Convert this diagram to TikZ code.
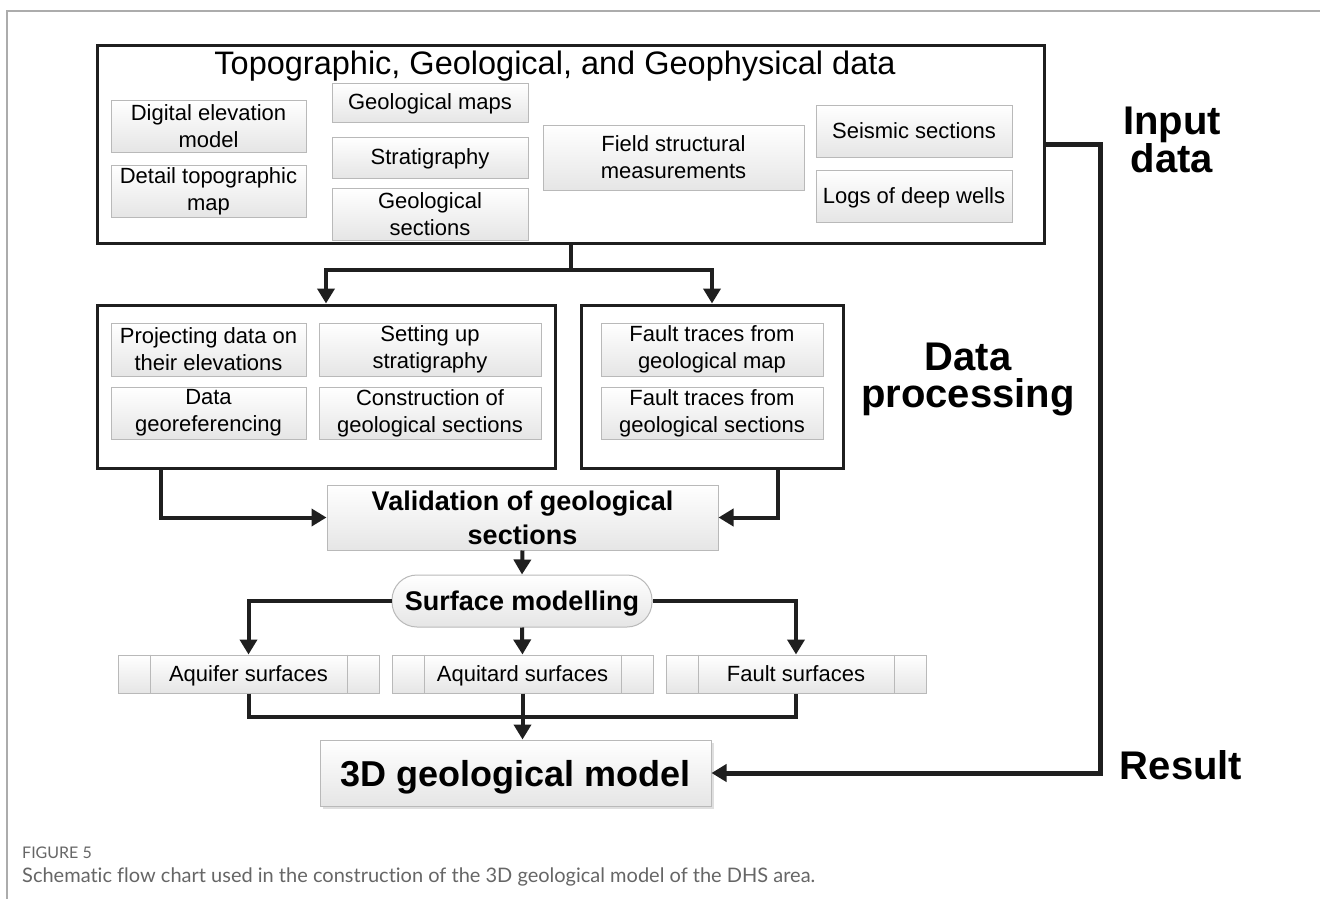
\documentclass[tikz,border=0pt]{standalone}
\usepackage{fontspec}
\setmainfont{Liberation Sans}
\newfontfamily\capfont[Ligatures=NoCommon]{Lato}
\usetikzlibrary{arrows.meta,shadows}
\definecolor{capgray}{HTML}{666666}
\newcommand\fsub{\fontsize{22}{27}\selectfont}
\newcommand\fbig{\fontsize{40}{37}\selectfont\bfseries}
\tikzset{
  sub/.style={draw=gray!55, line width=1pt, top color=white, bottom color=gray!20,
    inner sep=0pt, align=center, font=\fsub, text=black},
  one/.style={sub, text height=18pt, text depth=4pt},
  big/.style={draw=black!88, line width=3pt, inner sep=0pt, fill=none},
  conn/.style={line width=4pt, draw=black!88},
  arr/.style={conn, -{Triangle[width=17pt,length=15pt]}},
  lbl/.style={align=center, font=\fbig, inner sep=0pt},
}
\begin{document}
\begin{tikzpicture}[x=1pt,y=-1pt]
\useasboundingbox (0,0) rectangle (1320,899);
\fill[white] (0,0) rectangle (1320,899);
\draw[gray!65, line width=1.3pt] (7,899) -- (7,11) -- (1320,11);

% input block
\node[big, minimum width=947pt, minimum height=197pt] (T) at (570.5,144.5) {};
\node[inner sep=0pt, font=\fontsize{32.5}{36}\selectfont] (title) at (555,66) {Topographic, Geological, and Geophysical data};
\node[sub, minimum width=195pt, minimum height=52pt] (dem) at (208.5,126) {Digital elevation\\model};
\node[sub, minimum width=195pt, minimum height=52pt] (dtm) at (208.5,191) {Detail topographic\\map};
\node[one, minimum width=196pt, minimum height=38pt] (gmap) at (430,103) {Geological maps};
\node[one, minimum width=196pt, minimum height=41pt] (strat) at (430,157.5) {Stratigraphy};
\node[sub, minimum width=196pt, minimum height=52pt] (gsec) at (430,214) {Geological\\sections};
\node[sub, minimum width=261pt, minimum height=65pt] (field) at (673.5,157.5) {Field structural\\measurements};
\node[one, minimum width=196pt, minimum height=52pt] (seis) at (914,131) {Seismic sections};
\node[one, minimum width=196pt, minimum height=52pt] (logs) at (914,196) {Logs of deep wells};

% processing
\node[big, minimum width=458pt, minimum height=163pt] (L) at (326,386.5) {};
\node[sub, minimum width=195pt, minimum height=53pt] (proj) at (208.5,349.5) {Projecting data on\\their elevations};
\node[sub, minimum width=222pt, minimum height=53pt] (setup) at (430,349.5) {Setting up\\stratigraphy};
\node[sub, minimum width=195pt, minimum height=52pt] (georef) at (208.5,413) {Data\\georeferencing};
\node[sub, minimum width=222pt, minimum height=52pt] (constr) at (430,413) {Construction of\\geological sections};
\node[big, minimum width=262pt, minimum height=163pt] (R) at (712,386.5) {};
\node[sub, minimum width=222pt, minimum height=53pt] (ftmap) at (712,349.5) {Fault traces from\\geological map};
\node[sub, minimum width=222pt, minimum height=52pt] (ftsec) at (712,413) {Fault traces from\\geological sections};

% side labels
\node[lbl] (inp) at (1172,140) {Input\\data};
\node[lbl] (dp) at (968,379) {Data\\processing};
\node[lbl] (res) at (1181,765) {Result};

% validation and modelling
\node[sub, minimum width=391pt, minimum height=65pt,
  font=\fontsize{27}{34}\selectfont\bfseries] (valid) at (522.5,517.5) {Validation of geological\\sections};
\node[one, minimum width=260pt, minimum height=52pt, rounded corners=25pt, text height=24pt, text depth=5pt,
  font=\fontsize{27}{32}\selectfont\bfseries] (surf) at (522,601) {Surface modelling};
\node[one, minimum width=261pt, minimum height=38pt] (aqf) at (248.5,674) {Aquifer surfaces};
\node[one, minimum width=261pt, minimum height=38pt] (aqt) at (522.5,674) {Aquitard surfaces};
\node[one, minimum width=260pt, minimum height=38pt] (flt) at (796,674) {Fault surfaces};
\foreach \n in {aqf,aqt,flt}{
  \draw[gray!55, line width=1pt] ([xshift=33pt]\n.north west) -- ([xshift=33pt]\n.south west);
  \draw[gray!55, line width=1pt] ([xshift=-32pt]\n.north east) -- ([xshift=-32pt]\n.south east);
}
\node[one, minimum width=391pt, minimum height=66pt, text height=32pt, text depth=6pt,
  font=\fontsize{36}{40}\selectfont\bfseries,
  drop shadow={shadow xshift=3pt, shadow yshift=-3pt, opacity=0.25}] (model) at (515.5,773) {3D geological model};

% connectors
\draw[conn] (T.south) -- ++(0,25) coordinate (j1);
\draw[arr] (j1) -| (L.north);
\draw[arr] (j1) -| (R.north);
\draw[arr] ([xshift=65pt]L.south west) |- (valid.west);
\draw[arr] ([xshift=-67pt]R.south east) |- (valid.east);
\draw[arr] (valid.south) -- (surf.north);
\draw[arr] (surf.west) -| (aqf.north);
\draw[arr] (surf.south) -- (aqt.north);
\draw[arr] (surf.east) -| (flt.north);
\draw[conn] (aqf.south) -- ++(0,23) coordinate (j2) -| (flt.south);
\draw[arr] (aqt.south) -- (aqt.south |- model.north);
\coordinate (c1) at (1100,773);
\draw[arr, line width=5pt] (T.east) -| (c1) -- (model.east);

% caption
\node[anchor=base west, inner sep=0pt, text=capgray, font=\capfont\fontsize{16}{18}\selectfont] (figno) at (22,858) {FIGURE 5};
\node[anchor=base west, inner sep=0pt, text=capgray, font=\capfont\fontsize{20}{22}\selectfont] (cap) at (22,882) {Schematic flow chart used in the construction of the 3D geological model of the DHS area.};
\end{tikzpicture}
\end{document}
